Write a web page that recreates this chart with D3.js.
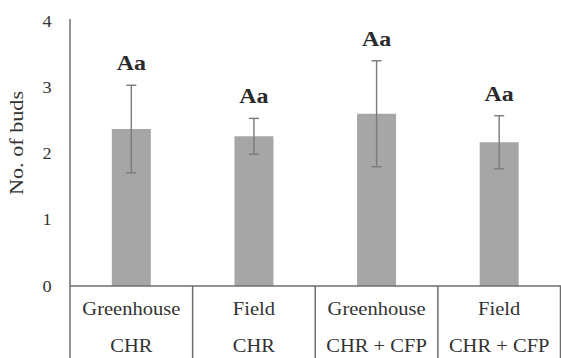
<!DOCTYPE html>
<html>
<head>
<meta charset="utf-8">
<script src="https://cdn.jsdelivr.net/npm/d3@7"></script>
<style>
  html, body { margin: 0; padding: 0; background: #fff; }
  svg { display: block; }
  svg text { font-family: "Liberation Serif", "Times New Roman", Tinos, Times, serif; }
</style>
</head>
<body>
<svg id="chart" width="561" height="358"></svg>
<script>
// Bud counts per growing condition (mean ± error)
const groups = ["Greenhouse", "Field", "Greenhouse", "Field"];
const treatments = ["CHR", "CHR", "CHR + CFP", "CHR + CFP"];
const means = [2.37, 2.26, 2.60, 2.17];
const errors = [0.66, 0.27, 0.80, 0.40];
const letters = ["Aa", "Aa", "Aa", "Aa"];
const yTicks = [0, 1, 2, 3, 4];

const svg = d3.select("#chart");
const margin = { left: 70, right: 0, top: 21, bottom: 72 };
const width = 561, height = 358;
const plotBottom = height - margin.bottom;
const stretch = 1.14; // horizontal widening of all horizontal text

const idx = means.map((_, i) => i);
const x = d3.scaleBand().domain(idx).range([margin.left, width - 0.5]).paddingInner(0).paddingOuter(0);
const barW = 39;
const y = d3.scaleLinear().domain([0, 4]).range([plotBottom, margin.top]);

const axisColor = "#6e6e6e";
const textColor = "#333";

// place a horizontally widened text centred at (cx, by)
function wideText(g, cx, by, str, size, anchor) {
  return g.append("text")
    .attr("transform", `translate(${cx},${by}) scale(${stretch},1)`)
    .attr("text-anchor", anchor || "middle")
    .style("font-size", size + "px")
    .text(str);
}

// bars
svg.append("g").selectAll("rect").data(idx).join("rect")
  .attr("x", i => x(i) + x.bandwidth() / 2 - barW / 2)
  .attr("y", i => y(means[i]))
  .attr("width", barW)
  .attr("height", i => y(0) - y(means[i]))
  .attr("fill", "#a6a6a6");

// error bars
const eb = svg.append("g").attr("stroke", "#7a7a7a").attr("stroke-width", 1.4);
idx.forEach(i => {
  const cx = x(i) + x.bandwidth() / 2;
  const hi = y(means[i] + errors[i]), lo = y(means[i] - errors[i]);
  eb.append("line").attr("x1", cx).attr("x2", cx).attr("y1", hi).attr("y2", lo);
  eb.append("line").attr("x1", cx - 5).attr("x2", cx + 5).attr("y1", hi).attr("y2", hi);
  eb.append("line").attr("x1", cx - 5).attr("x2", cx + 5).attr("y1", lo).attr("y2", lo);
});

// significance letters
const letterG = svg.append("g").attr("fill", "#2a2a2a").style("font-weight", "bold");
idx.forEach(i => {
  wideText(letterG, x(i) + x.bandwidth() / 2, y(means[i] + errors[i]) - 15, letters[i], 21);
});

// y axis line and tick labels
svg.append("line")
  .attr("x1", margin.left).attr("x2", margin.left)
  .attr("y1", y(4) - 2).attr("y2", y(0))
  .attr("stroke", axisColor).attr("stroke-width", 1.5);
const tickG = svg.append("g").attr("fill", textColor);
yTicks.forEach(t => {
  wideText(tickG, 47, y(t) + 5.5, d3.format("d")(t), 16);
});

// y axis title
svg.append("text")
  .attr("transform", `translate(23,${143}) rotate(-90)`)
  .attr("text-anchor", "middle")
  .attr("textLength", 104)
  .attr("lengthAdjust", "spacingAndGlyphs")
  .attr("fill", textColor)
  .style("font-size", "18px")
  .text("No. of buds");

// x axis baseline and category dividers
const xg = svg.append("g").attr("stroke", axisColor).attr("stroke-width", 1.5);
xg.append("line").attr("x1", margin.left).attr("x2", width).attr("y1", y(0)).attr("y2", y(0));
const edges = idx.map(i => x(i)).concat([width - 0.5]);
edges.forEach(e => {
  xg.append("line").attr("x1", e).attr("x2", e).attr("y1", y(0)).attr("y2", height);
});

// category labels
const lab = svg.append("g").attr("fill", textColor);
idx.forEach(i => {
  const cx = x(i) + x.bandwidth() / 2;
  wideText(lab, cx, y(0) + 29, groups[i], 18);
  wideText(lab, cx, y(0) + 66, treatments[i], 18);
});
</script>
</body>
</html>
